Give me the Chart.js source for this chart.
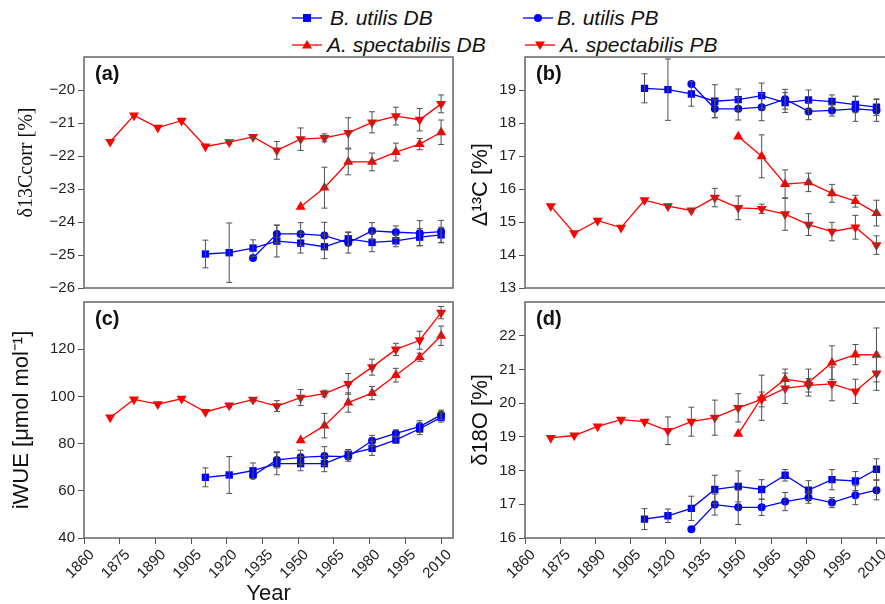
<!DOCTYPE html>
<html>
<head>
<meta charset="utf-8">
<script src="https://cdn.jsdelivr.net/npm/chart.js@4.4.1/dist/chart.umd.min.js"></script>
<style>
  html, body { margin: 0; padding: 0; width: 885px; height: 604px; overflow: hidden; background: #fff; }
  canvas { position: absolute; }
  .leg { position: absolute; font: italic 21px "Liberation Sans", Arial, sans-serif; color: #111; white-space: nowrap; line-height: 24px; }
  .legmark { position: absolute; }
</style>
</head>
<body>
<svg class="legmark" style="left:292px;top:11px" width="30" height="14"><line x1="0" y1="7" x2="30" y2="7" stroke="#0000ff" stroke-width="1.3"/><rect x="11" y="3" width="8" height="8" fill="#0000ff"/></svg>
<div class="leg" style="left:330px;top:6px">B. utilis DB</div>
<svg class="legmark" style="left:523px;top:11px" width="30" height="14"><line x1="0" y1="7" x2="30" y2="7" stroke="#0000ff" stroke-width="1.3"/><circle cx="15" cy="7" r="4" fill="#0000ff"/></svg>
<div class="leg" style="left:557px;top:6px">B. utilis PB</div>
<svg class="legmark" style="left:292px;top:38px" width="30" height="14"><line x1="0" y1="7" x2="30" y2="7" stroke="#ff0000" stroke-width="1.3"/><polygon points="15,2 20,10.5 10,10.5" fill="#ff0000"/></svg>
<div class="leg" style="left:327px;top:33px">A. spectabilis DB</div>
<svg class="legmark" style="left:525px;top:38px" width="30" height="14"><line x1="0" y1="7" x2="30" y2="7" stroke="#ff0000" stroke-width="1.3"/><polygon points="10,3.5 20,3.5 15,12" fill="#ff0000"/></svg>
<div class="leg" style="left:560px;top:33px">A. spectabilis PB</div>

<canvas id="chartA" width="460" height="300" style="left:0;top:0"></canvas>
<canvas id="chartB" width="439" height="300" style="left:455px;top:0"></canvas>
<canvas id="chartC" width="460" height="314" style="left:0;top:290px"></canvas>
<canvas id="chartD" width="439" height="314" style="left:455px;top:290px"></canvas>

<script>
const years = [1871, 1881, 1891, 1901, 1911, 1921, 1931, 1941, 1951, 1961, 1971, 1981, 1991, 2001, 2010];
const yearTicks = [1860, 1875, 1890, 1905, 1920, 1935, 1950, 1965, 1980, 1995, 2010];

// (a) delta13C corr
const aBuDB = [null, null, null, null, -24.97, -24.93, -24.79, -24.58, -24.64, -24.75, -24.51, -24.62, -24.57, -24.46, -24.39];
const aBuDBErr = [null, null, null, null, 0.42, 0.90, 0.25, 0.48, 0.30, 0.36, 0.21, 0.28, 0.18, 0.26, 0.23];
const aBuPB = [null, null, null, null, null, null, -25.09, -24.36, -24.36, -24.41, -24.63, -24.27, -24.31, -24.34, -24.29];
const aBuPBErr = [null, null, null, null, null, null, 0, 0.27, 0.34, 0.40, 0.31, 0.25, 0.19, 0.38, 0.34];
const aAsDB = [null, null, null, null, null, null, null, null, -23.54, -22.96, -22.18, -22.18, -21.88, -21.64, -21.28];
const aAsDBErr = [null, null, null, null, null, null, null, null, 0, 0.62, 0.39, 0.27, 0.27, 0.17, 0.37];
const aAsPB = [-21.57, -20.77, -21.14, -20.93, -21.71, -21.58, -21.42, -21.83, -21.49, -21.45, -21.30, -20.98, -20.79, -20.90, -20.42];
const aAsPBErr = [0, 0, 0, 0, 0, 0.05, 0.05, 0.27, 0.34, 0.12, 0.46, 0.32, 0.27, 0.34, 0.27];
const aTicks = [-26, -25, -24, -23, -22, -21, -20];

// (b) Delta13C
const bBuDB = [null, null, null, null, 19.05, 19.01, 18.88, 18.66, 18.71, 18.83, 18.62, 18.70, 18.65, 18.56, 18.48];
const bBuDBErr = [null, null, null, null, 0.44, 0.93, 0.37, 0.50, 0.32, 0.38, 0.30, 0.30, 0.20, 0.25, 0.25];
const bBuPB = [null, null, null, null, null, null, 19.18, 18.43, 18.43, 18.48, 18.72, 18.35, 18.38, 18.43, 18.38];
const bBuPBErr = [null, null, null, null, null, null, 0, 0.27, 0.34, 0.41, 0.30, 0.25, 0.17, 0.38, 0.33];
const bAsDB = [null, null, null, null, null, null, null, null, 17.59, 16.99, 16.15, 16.20, 15.87, 15.63, 15.27];
const bAsDBErr = [null, null, null, null, null, null, null, null, 0, 0.65, 0.43, 0.28, 0.27, 0.18, 0.39];
const bAsPB = [15.48, 14.66, 15.04, 14.83, 15.66, 15.48, 15.35, 15.74, 15.43, 15.40, 15.24, 14.92, 14.71, 14.84, 14.30];
const bAsPBErr = [0, 0, 0, 0, 0, 0.05, 0.05, 0.28, 0.36, 0.14, 0.49, 0.33, 0.28, 0.36, 0.28];
const bTicks = [13, 14, 15, 16, 17, 18, 19];

// (c) iWUE
const cBuDB = [null, null, null, null, 65.7, 66.7, 68.5, 71.5, 71.5, 71.5, 75.5, 78.0, 81.6, 86.3, 91.1];
const cBuDBErr = [null, null, null, null, 4.0, 7.8, 3.3, 4.7, 3.0, 3.4, 2.0, 3.0, 1.5, 2.5, 2.0];
const cBuPB = [null, null, null, null, null, null, 66.4, 73.1, 74.2, 74.7, 74.5, 81.2, 84.3, 87.2, 92.2];
const cBuPBErr = [null, null, null, null, null, null, 0, 3.4, 3.0, 4.0, 2.0, 2.3, 1.5, 2.5, 2.0];
const cAsDB = [null, null, null, null, null, null, null, null, 81.4, 87.6, 97.4, 101.4, 109.0, 116.6, 125.7];
const cAsDBErr = [null, null, null, null, null, null, null, null, 0, 5.2, 4.1, 2.8, 2.9, 1.7, 4.1];
const cAsPB = [91.1, 98.7, 96.7, 99.0, 93.4, 96.2, 98.6, 95.9, 99.5, 101.2, 105.3, 112.4, 119.9, 123.8, 135.5];
const cAsPBErr = [0, 0, 0, 0, 0, 0.8, 0.8, 2.3, 3.4, 1.4, 4.4, 3.4, 2.6, 3.8, 2.6];
const cTicks = [40, 60, 80, 100, 120];

// (d) delta18O
const dBuDB = [null, null, null, null, 16.56, 16.66, 16.88, 17.44, 17.53, 17.44, 17.86, 17.42, 17.73, 17.69, 18.04];
const dBuDBErr = [null, null, null, null, 0.31, 0.20, 0.36, 0.42, 0.46, 0.29, 0.17, 0.28, 0.30, 0.28, 0.31];
const dBuPB = [null, null, null, null, null, null, 16.26, 16.99, 16.91, 16.91, 17.08, 17.20, 17.05, 17.27, 17.42];
const dBuPBErr = [null, null, null, null, null, null, 0, 0.31, 0.51, 0.24, 0.27, 0.17, 0.15, 0.28, 0.29];
const dAsDB = [null, null, null, null, null, null, null, null, 19.09, 20.16, 20.71, 20.61, 21.20, 21.44, 21.43];
const dAsDBErr = [null, null, null, null, null, null, null, null, 0, 0.67, 0.30, 0.40, 0.50, 0.30, 0.80];
const dAsPB = [18.97, 19.04, 19.31, 19.51, 19.45, 19.18, 19.45, 19.57, 19.86, 20.11, 20.44, 20.53, 20.57, 20.35, 20.88];
const dAsPBErr = [0, 0, 0, 0, 0, 0.41, 0.43, 0.52, 0.42, 0.22, 0.45, 0.20, 0.50, 0.36, 0.50];
const dTicks = [16, 17, 18, 19, 20, 21, 22];

const BLUE = '#0000ff';
const RED = '#ff0000';
const SANS = '"Liberation Sans", Arial, sans-serif';

function pts(vals, errs) {
    const out = [];
    years.forEach((x, i) => {
        if (vals[i] !== null) out.push({ x: x, y: vals[i], e: errs[i] || 0 });
    });
    return out;
}

function series(vals, errs, color, style, radius, rotation) {
    return {
        data: pts(vals, errs),
        borderColor: color,
        backgroundColor: color,
        borderWidth: 1.3,
        pointStyle: style,
        pointRadius: radius,
        pointRotation: rotation || 0,
        pointBorderWidth: 0,
        pointBackgroundColor: color,
        tension: 0
    };
}

// error bars
const errorBars = {
    id: 'errorBars',
    afterDatasetsDraw(chart) {
        const ctx = chart.ctx;
        const ys = chart.scales.y;
        ctx.save();
        ctx.strokeStyle = '#505050';
        ctx.lineWidth = 1;
        chart.data.datasets.forEach((ds, i) => {
            const meta = chart.getDatasetMeta(i);
            ds.data.forEach((p, j) => {
                if (!p.e) return;
                const px = meta.data[j].x;
                const top = ys.getPixelForValue(p.y + p.e);
                const bot = ys.getPixelForValue(p.y - p.e);
                ctx.beginPath();
                ctx.moveTo(px, top); ctx.lineTo(px, bot);
                ctx.moveTo(px - 3, top); ctx.lineTo(px + 3, top);
                ctx.moveTo(px - 3, bot); ctx.lineTo(px + 3, bot);
                ctx.stroke();
            });
        });
        ctx.restore();
    }
};

// frame + panel letter
const frame = {
    id: 'frame',
    afterDraw(chart, args, opts) {
        const ctx = chart.ctx;
        const a = chart.chartArea;
        ctx.save();
        ctx.strokeStyle = '#666';
        ctx.lineWidth = 1.5;
        ctx.strokeRect(a.left, a.top, a.right - a.left, a.bottom - a.top);
        ctx.fillStyle = '#111';
        ctx.font = 'bold 20px ' + SANS;
        ctx.textBaseline = 'top';
        ctx.fillText(opts.label, a.left + 11, a.top + 7);
        ctx.restore();
    }
};

function makeChart(id, cfg) {
    const bottom = cfg.bottom;
    new Chart(document.getElementById(id), {
        type: 'line',
        data: { datasets: cfg.datasets },
        options: {
            responsive: false,
            animation: false,
            layout: { padding: cfg.padding },
            plugins: {
                legend: { display: false },
                tooltip: { enabled: false },
                frame: { label: cfg.label }
            },
            scales: {
                x: {
                    type: 'linear',
                    min: 1860,
                    max: 2015,
                    afterBuildTicks: s => { s.ticks = yearTicks.map(v => ({ value: v })); },
                    afterFit: s => { s.height = bottom ? 66 : 0; },
                    border: { display: false },
                    grid: { display: bottom, drawOnChartArea: false, drawTicks: true, tickLength: 6, color: '#555' },
                    ticks: {
                        display: bottom,
                        minRotation: 45,
                        maxRotation: 45,
                        padding: 2,
                        labelOffset: 8,
                        color: '#222',
                        font: { family: SANS, size: 15 },
                        callback: v => String(v)
                    },
                    title: {
                        display: !!cfg.xTitle,
                        text: cfg.xTitle || '',
                        color: '#111',
                        font: { family: SANS, size: 22 },
                        padding: { top: 0, bottom: -3 }
                    }
                },
                y: {
                    type: 'linear',
                    min: cfg.yMin,
                    max: cfg.yMax,
                    afterBuildTicks: s => { s.ticks = cfg.yTicks.map(v => ({ value: v })); },
                    afterFit: s => { s.width = cfg.yWidth; },
                    border: { display: false },
                    grid: { drawOnChartArea: false, drawTicks: true, tickLength: 6, color: '#555' },
                    ticks: {
                        padding: 3,
                        color: '#222',
                        font: { family: SANS, size: 15 },
                        callback: v => String(v).replace('-', '\u2212')
                    },
                    title: {
                        display: true,
                        text: cfg.yTitle,
                        color: '#111',
                        font: cfg.yTitleFont,
                        padding: { top: cfg.yTitlePad, bottom: 0 }
                    }
                }
            }
        },
        plugins: [errorBars, frame]
    });
}

function fourSeries(buDB, buDBErr, buPB, buPBErr, asDB, asDBErr, asPB, asPBErr) {
    return [
        series(buDB, buDBErr, BLUE, 'rect', 5.2),
        series(buPB, buPBErr, BLUE, 'circle', 4),
        series(asDB, asDBErr, RED, 'triangle', 5.8),
        series(asPB, asPBErr, RED, 'triangle', 5.8, 180)
    ];
}

makeChart('chartA', {
    label: '(a)',
    bottom: false,
    padding: { top: 57, right: 7, bottom: 4, left: 0 },
    yMin: -26, yMax: -19, yTicks: aTicks, yWidth: 84,
    yTitle: '\u00a0\u00a0\u00a0\u00a0δ13Ccorr [%]',
    yTitleFont: { family: '"Liberation Serif", "Times New Roman", serif', size: 20 },
    yTitlePad: 15,
    datasets: fourSeries(aBuDB, aBuDBErr, aBuPB, aBuPBErr, aAsDB, aAsDBErr, aAsPB, aAsPBErr)
});

makeChart('chartB', {
    label: '(b)',
    bottom: false,
    padding: { top: 57, right: 0, bottom: 4, left: 0 },
    yMin: 13, yMax: 20, yTicks: bTicks, yWidth: 70,
    yTitle: 'Δ¹³C [%]\u00a0\u00a0\u00a0\u00a0',
    yTitleFont: { family: SANS, size: 22 },
    yTitlePad: 13,
    datasets: fourSeries(bBuDB, bBuDBErr, bBuPB, bBuPBErr, bAsDB, bAsDBErr, bAsPB, bAsPBErr)
});

makeChart('chartC', {
    label: '(c)',
    bottom: true,
    xTitle: 'Year',
    padding: { top: 6, right: 7, bottom: 0, left: 0 },
    yMin: 40, yMax: 140, yTicks: cTicks, yWidth: 84,
    yTitle: 'iWUE [μmol mol⁻¹]',
    yTitleFont: { family: SANS, size: 22 },
    yTitlePad: 9,
    datasets: fourSeries(cBuDB, cBuDBErr, cBuPB, cBuPBErr, cAsDB, cAsDBErr, cAsPB, cAsPBErr)
});

makeChart('chartD', {
    label: '(d)',
    bottom: true,
    padding: { top: 6, right: 0, bottom: 0, left: 0 },
    yMin: 16, yMax: 23, yTicks: dTicks, yWidth: 70,
    yTitle: 'δ18O [%]',
    yTitleFont: { family: SANS, size: 22 },
    yTitlePad: 13,
    datasets: fourSeries(dBuDB, dBuDBErr, dBuPB, dBuPBErr, dAsDB, dAsDBErr, dAsPB, dAsPBErr)
});
</script>
</body>
</html>
